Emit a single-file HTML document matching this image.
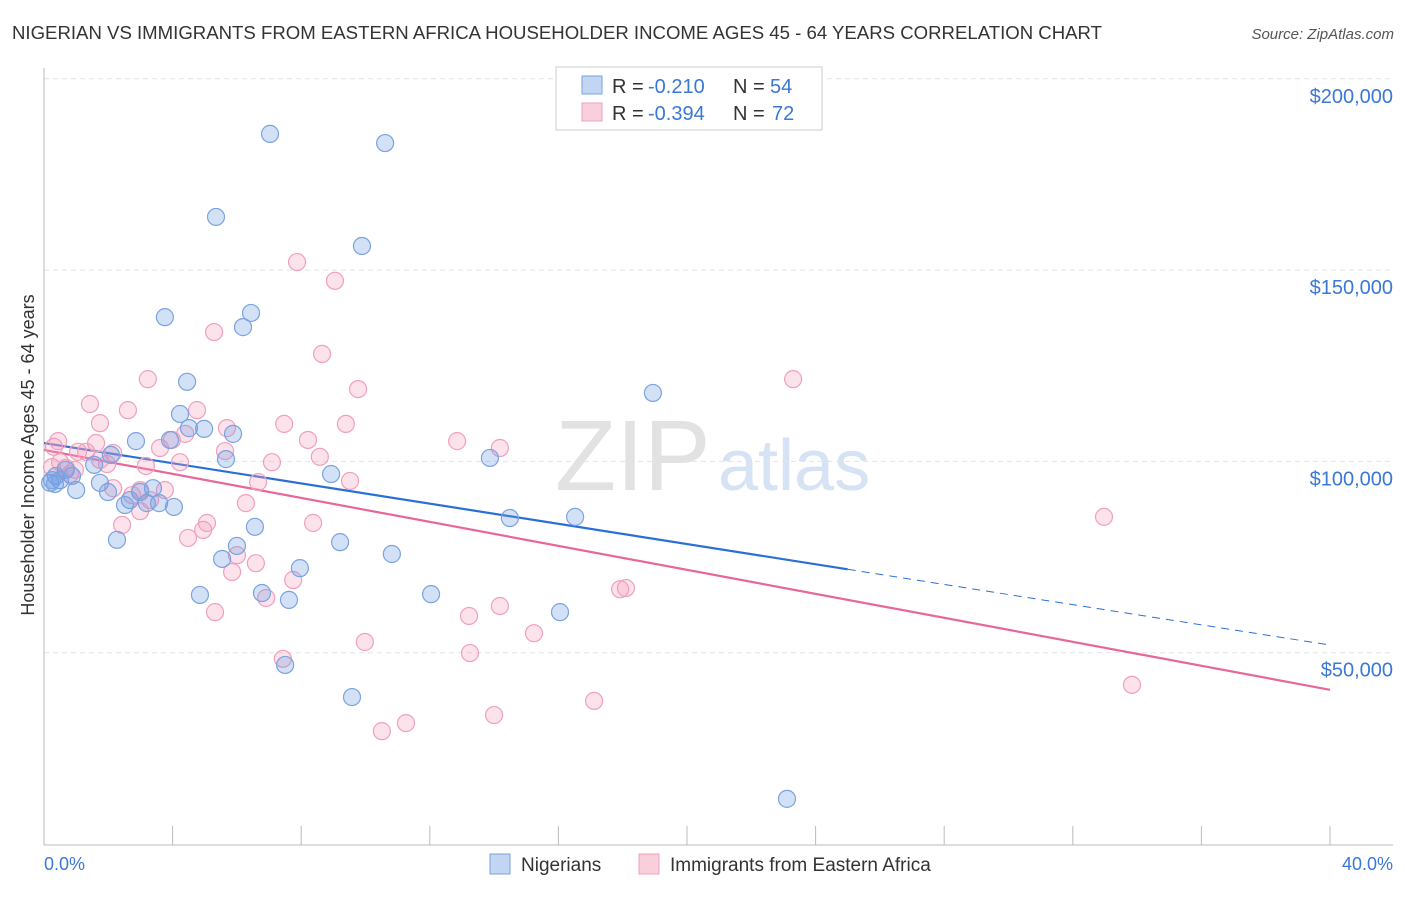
<!DOCTYPE html>
<html><head><meta charset="utf-8">
<style>
body{margin:0;background:#fff;font-family:"Liberation Sans",sans-serif;}
svg text{font-family:"Liberation Sans",sans-serif;}
</style></head>
<body>
<svg id="chart" width="1406" height="892">
<text x="12" y="39" font-size="18.6" fill="#333">NIGERIAN VS IMMIGRANTS FROM EASTERN AFRICA HOUSEHOLDER INCOME AGES 45 - 64 YEARS CORRELATION CHART</text>
<text x="1394" y="39" font-size="15" fill="#555" text-anchor="end" font-style="italic">Source: ZipAtlas.com</text>
<text x="555" y="490" font-size="100" fill="#e2e2e2" font-family="Liberation Serif">ZIP</text>
<text x="718" y="490" font-size="72" fill="#d6e3f5">atlas</text>
<g id="grid"></g><g id="axes"></g><g id="lines"></g><g id="pts"></g>
<text transform="translate(34,455) rotate(-90)" font-size="18" fill="#333" text-anchor="middle">Householder Income Ages 45 - 64 years</text>
<text x="44" y="870" font-size="18" fill="#3a78d6">0.0%</text>
<text x="1393" y="870" font-size="18" fill="#3a78d6" text-anchor="end">40.0%</text>
<g>
<rect x="556" y="67" width="266" height="63" fill="#fff" stroke="#ccc"/>
<rect x="582" y="76" width="20" height="18" fill="#c2d6f3" stroke="#7aa3e0"/>
<rect x="582" y="103" width="20" height="18" fill="#f9cfdc" stroke="#f0a0bc"/>
<text x="612" y="93" font-size="20" fill="#333">R =</text>
<text x="648" y="93" font-size="20" fill="#3a78d6">-0.210</text>
<text x="733" y="93" font-size="20" fill="#333">N =</text>
<text x="770" y="93" font-size="20" fill="#3a78d6">54</text>
<text x="612" y="120" font-size="20" fill="#333">R =</text>
<text x="648" y="120" font-size="20" fill="#3a78d6">-0.394</text>
<text x="733" y="120" font-size="20" fill="#333">N =</text>
<text x="772" y="120" font-size="20" fill="#3a78d6">72</text>
</g>
<g>
<rect x="490" y="854" width="20" height="20" fill="#c2d6f3" stroke="#7aa3e0"/>
<text x="521" y="871" font-size="19" fill="#333">Nigerians</text>
<rect x="639" y="854" width="20" height="20" fill="#f9cfdc" stroke="#f0a0bc"/>
<text x="670" y="871" font-size="19" fill="#333">Immigrants from Eastern Africa</text>
</g>
</svg>
<script>
const yTicks=[50000,100000,150000,200000];
const yTickLabels=["$50,000","$100,000","$150,000","$200,000"];
const xTicks=[0,4,8,12,16,20,24,28,32,36,40];
const blueX=[7.03,10.61,5.35,9.89,3.76,6.44,6.19,4.45,18.94,4.23,4.98,5.88,4.51,2.86,3.92,2.08,5.66,13.87,1.56,0.68,0.37,0.87,0.19,0.5,1.74,1.0,1.99,3.39,2.99,2.67,2.52,3.2,3.58,4.04,8.93,14.49,16.52,6.56,6.0,2.27,9.21,10.82,5.54,7.96,6.78,4.85,7.62,12.04,16.05,7.5,9.58,23.11,0.34,0.25];
const blueY=[185600,183200,163900,156300,137700,138800,135100,120800,117900,112400,108500,107200,108700,105300,105600,101700,100600,100900,99100,97800,96200,96200,94400,95100,94400,92500,92000,93000,92000,89900,88600,89100,89100,88100,96700,85200,85500,82900,77900,79500,78900,75800,74500,72100,65600,65100,63800,65300,60600,46800,38400,11800,94100,95100];
const pinkX=[7.87,9.05,5.29,8.65,23.3,3.23,9.77,1.43,2.61,4.76,9.39,7.47,1.74,5.69,4.39,12.85,8.21,14.18,3.98,1.62,0.44,0.31,3.61,5.63,2.15,1.06,8.58,1.31,4.23,7.09,1.96,3.17,0.68,0.25,0.81,6.66,9.52,2.99,3.76,2.15,2.74,6.28,2.99,32.97,5.07,8.37,2.43,4.95,4.48,6.0,6.59,5.85,7.75,17.92,18.1,14.18,13.22,5.32,6.91,15.24,9.98,13.25,7.43,33.84,17.11,14.0,11.26,10.51,0.5,0.96,1.74,3.3];
const pinkY=[152100,147200,133800,128100,121500,121500,118900,115000,113400,113400,109800,109800,110000,108700,107200,105300,105600,103500,105600,104800,105300,103800,103500,102700,102200,102500,101200,102500,99800,99800,99300,98800,98300,98500,96700,94600,94900,92500,92500,93000,91200,89100,87000,85500,83900,83900,83400,82100,80000,75500,73400,71100,69000,66600,66900,62200,59600,60600,64300,55100,52800,49900,48400,41600,37400,33700,31600,29500,99800,97800,100400,89900];
const blueLine=[104800,52000], blueSolidEnd=25.0;
const pinkLine=[103000,40300];
const NS="http://www.w3.org/2000/svg";
const X=v=>44+v*32.15, Y=v=>844-v/50000*191.3;
function mk(t,a,p){const e=document.createElementNS(NS,t);for(const k in a)e.setAttribute(k,a[k]);p.appendChild(e);return e;}
const grid=document.getElementById('grid'),axes=document.getElementById('axes'),lines=document.getElementById('lines'),pts=document.getElementById('pts');
yTicks.forEach((v,i)=>{
 const l=mk('line',{x1:44,x2:1393,y1:Y(v),y2:Y(v),stroke:'#e2e2e2','stroke-dasharray':'5,4'},grid);
 
 
 const t=mk('text',{x:1393,y:Y(v)+24,'font-size':20,fill:'#3a78d6','text-anchor':'end'},axes);
 t.textContent=yTickLabels[i];
 
 
});
const ax=mk('line',{x1:44,x2:44,y1:68,y2:845,stroke:'#bbb'},axes);


const bx=mk('line',{x1:44,x2:1393,y1:845,y2:845,stroke:'#bbb'},axes);


xTicks.forEach(v=>{
 const t=mk('line',{x1:X(v),x2:X(v),y1:826,y2:845,stroke:'#bbb'},axes);
 
 
});
function dots(xs,ys,fill,stroke,name){
 xs.forEach((x,i)=>{
  const c=mk('circle',{cx:X(x),cy:Y(ys[i]),r:8.5,fill:fill,stroke:stroke,'stroke-width':1.2},pts);
  
  
 });
}
dots(pinkX,pinkY,'rgba(244,160,190,0.3)','#f0a0bc','point-eastern-africa');
dots(blueX,blueY,'rgba(110,155,230,0.3)','#7aa3e0','point-nigerian');
const bl=(x)=>blueLine[0]+(blueLine[1]-blueLine[0])*x/40;
const b1=mk('line',{x1:X(0),y1:Y(bl(0)),x2:X(blueSolidEnd),y2:Y(bl(blueSolidEnd)),stroke:'#2b6fd6','stroke-width':2.2},lines);


const b2=mk('line',{x1:X(blueSolidEnd),y1:Y(bl(blueSolidEnd)),x2:X(40),y2:Y(bl(40)),stroke:'#2b6fd6','stroke-width':1,'stroke-dasharray':'8,6'},lines);


const p1=mk('line',{x1:X(0),y1:Y(pinkLine[0]),x2:X(40),y2:Y(pinkLine[1]),stroke:'#e8679a','stroke-width':2.2},lines);


</script>
</body></html>
